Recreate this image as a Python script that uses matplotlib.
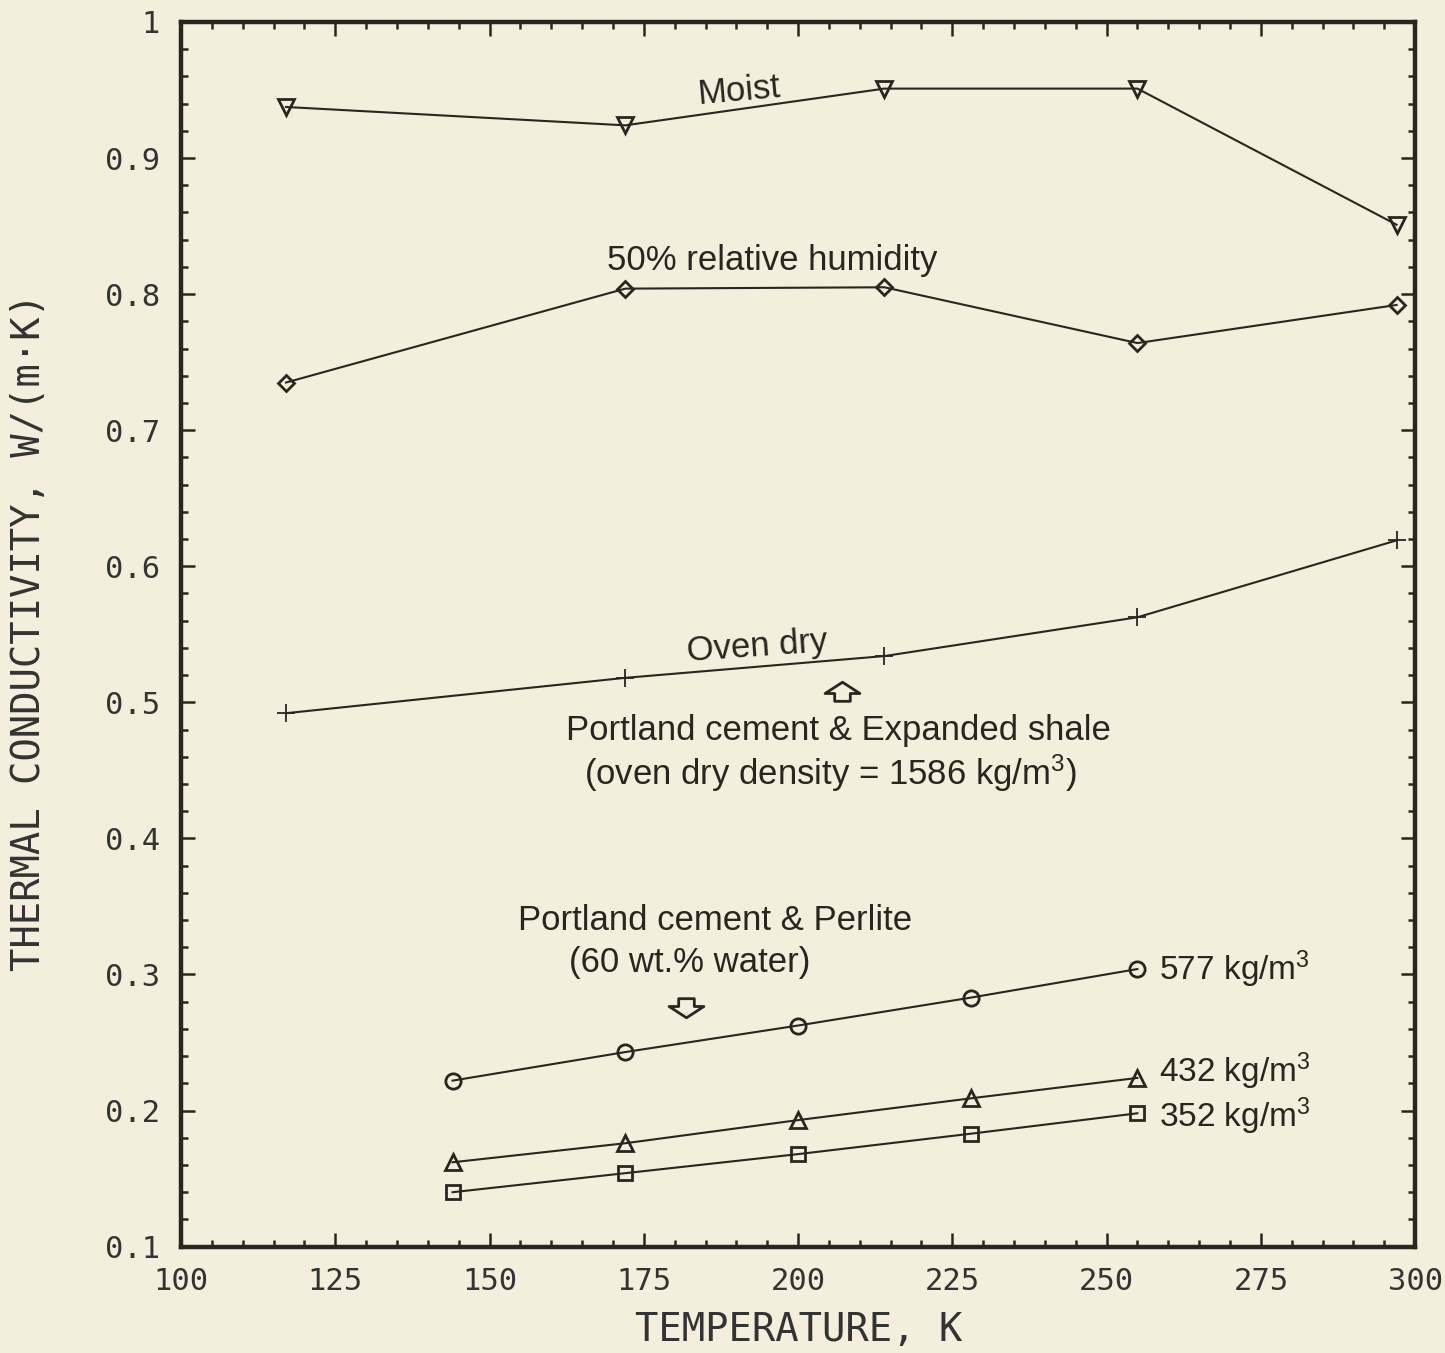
import matplotlib
matplotlib.use("Agg")
import matplotlib.pyplot as plt
from matplotlib.path import Path
from matplotlib.ticker import MultipleLocator, FuncFormatter

# data
t_shale = [117, 172, 214, 255, 297]
k_moist = [0.9375, 0.924, 0.951, 0.951, 0.851]
k_rh50 = [0.735, 0.804, 0.805, 0.764, 0.792]
k_ovendry = [0.492, 0.518, 0.534, 0.5625, 0.619]

t_perlite = [144, 172, 200, 228, 255]
k_577 = [0.222, 0.243, 0.2625, 0.283, 0.304]
k_432 = [0.162, 0.176, 0.193, 0.209, 0.224]
k_352 = [0.140, 0.154, 0.168, 0.183, 0.198]

density_labels = ["577 kg/m$^{3}$", "432 kg/m$^{3}$", "352 kg/m$^{3}$"]

bg = "#f3efdc"
ink = "#2b2521"

plt.rcParams["mathtext.fontset"] = "custom"
plt.rcParams["mathtext.rm"] = "Liberation Sans"
plt.rcParams["mathtext.it"] = "Liberation Sans:italic"

fig = plt.figure(figsize=(14.45, 13.53), dpi=100, facecolor=bg)
ax = fig.add_axes([0.1253, 0.0786, 0.8540, 0.9052], facecolor=bg)

lw = 1.5
ax.plot(t_shale, k_moist, color=ink, lw=lw, marker="v", ms=11, mfc="none", mec=ink, mew=2)
ax.plot(t_shale, k_rh50, color=ink, lw=lw, marker="D", ms=8, mfc="none", mec=ink, mew=2)
ax.plot(t_shale, k_ovendry, color=ink, lw=lw, marker="+", ms=13, mec=ink, mew=1.3)
ax.plot(t_perlite, k_577, color=ink, lw=lw, marker="o", ms=11, mfc="none", mec=ink, mew=2)
ax.plot(t_perlite, k_432, color=ink, lw=lw, marker="^", ms=11, mfc="none", mec=ink, mew=2)
ax.plot(t_perlite, k_352, color=ink, lw=lw, marker="s", ms=10, mfc="none", mec=ink, mew=2)

ax.set_xlim(100, 300)
ax.set_ylim(0.1, 1.0)

ax.xaxis.set_major_locator(MultipleLocator(25))
ax.xaxis.set_minor_locator(MultipleLocator(5))
ax.yaxis.set_major_locator(MultipleLocator(0.1))
ax.yaxis.set_minor_locator(MultipleLocator(0.02))
ax.yaxis.set_major_formatter(FuncFormatter(lambda v, p: "1" if abs(v - 1) < 1e-6 else "%.1f" % v))
ax.xaxis.set_major_formatter(FuncFormatter(lambda v, p: "%d" % round(v)))

ax.tick_params(which="both", direction="in", top=True, right=True, color=ink)
ax.tick_params(which="major", length=10, width=1.8, pad=15, labelsize=22, labelcolor="#333")
ax.tick_params(which="minor", length=5, width=1.8)
for lab in ax.get_xticklabels() + ax.get_yticklabels():
    lab.set_fontfamily("DejaVu Sans Mono")
for sp in ax.spines.values():
    sp.set_linewidth(3.2)
    sp.set_color(ink)

fig.text(0.553, 0.017, "TEMPERATURE, K", ha="center", va="center",
         fontsize=28, family="DejaVu Sans Mono", color="#333")
fig.text(0.02, 0.533, "THERMAL CONDUCTIVITY, W/(m\u00b7K)", rotation=90, ha="center", va="center",
         fontsize=28, family="DejaVu Sans Mono", color="#333")

tf = dict(family=["Liberation Sans", "DejaVu Sans"], fontsize=25, color=ink)
ax.text(190.3, 0.949, "Moist", ha="center", va="center", rotation=5, **tf)
ax.text(195.8, 0.825, "50% relative humidity", ha="center", va="center", **tf)
ax.text(193.4, 0.541, "Oven dry", ha="center", va="center", rotation=4, **tf)
ax.text(206.5, 0.479, "Portland cement & Expanded shale", ha="center", va="center", **tf)
ax.text(205.2, 0.448, "(oven dry density = 1586 kg/m$^{3}$)", ha="center", va="center", **tf)
ax.text(186.5, 0.340, "Portland cement & Perlite", ha="center", va="center", **tf)
ax.text(182.5, 0.309, "(60 wt.% water)", ha="center", va="center", **tf)

# density labels next to the last point of each perlite curve
label_nudge = [0.0, 0.005, -0.002]
for lbl, ser, dy in zip(density_labels, [k_577, k_432, k_352], label_nudge):
    ax.text(t_perlite[-1] + 3.5, ser[-1] + dy, lbl, ha="left", va="center",
            family=["Liberation Sans", "DejaVu Sans"], fontsize=24, color=ink)

# hollow block arrows
up = Path([(-1, 0), (0, 0.65), (1, 0), (0.45, 0), (0.45, -0.45), (-0.45, -0.45), (-0.45, 0), (-1, 0)],
          [Path.MOVETO] + [Path.LINETO] * 6 + [Path.CLOSEPOLY])
down = Path([(x, -y) for x, y in up.vertices], up.codes)
ax.plot([207.1], [0.507], marker=up, ms=25, mfc="none", mec=ink, mew=2, ls="none")
ax.plot([181.8], [0.277], marker=down, ms=25, mfc="none", mec=ink, mew=2, ls="none")

fig.savefig("out.png", dpi=100, facecolor=bg)
